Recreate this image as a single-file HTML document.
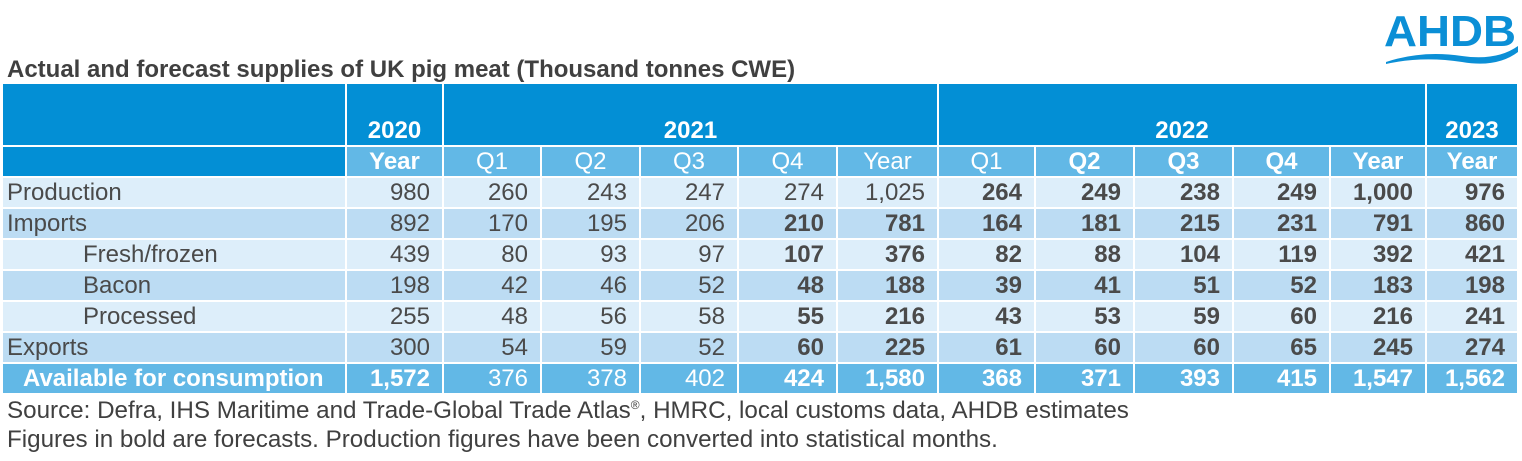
<!DOCTYPE html>
<html><head><meta charset="utf-8"><style>
body{margin:0;width:1522px;height:461px;background:#fff;font-family:"Liberation Sans",Arial,sans-serif;position:relative;overflow:hidden}
.t{position:absolute;left:7px;top:56px;font-size:24px;font-weight:bold;color:#404040}
.f{position:absolute;left:7px;font-size:24.2px;color:#404040}
table{position:absolute;left:3px;top:84px;border-collapse:collapse;table-layout:fixed;font-size:24px;color:#4a4a4a}
td{padding:0 12px 0 0;text-align:right;height:29px;border:2px solid #fff;white-space:nowrap;overflow:hidden;line-height:29px}
td:first-child{text-align:left;padding-left:4px;border-left:0}
tr.h1 td{background:#038fd5;color:#fff;font-weight:bold;text-align:center;padding:0;vertical-align:bottom;height:61px;border-top:0}
tr.h2 td{background:#62b8e6;color:#fff;text-align:center;padding:0}
tr.ra td{background:#ddeefa}
tr.rb td{background:#bcdcf3}
tr.rc td{background:#62b8e6;color:#fff;font-weight:bold}
tr.rc td.n{font-weight:normal}
.b{font-weight:bold}
.i{padding-left:80px!important}
</style></head><body>
<svg style="position:absolute;left:1382px;top:8px" width="138" height="56" viewBox="0 0 138 56">
<text x="2" y="38" font-family="Liberation Sans" font-weight="bold" font-size="44" fill="#0b8fd6" textLength="132" lengthAdjust="spacingAndGlyphs">AHDB</text>
<path d="M4 54 Q40 42 80 48 Q115 53 136 38 L136 44 Q115 60 80 54 Q40 48 4 56Z" fill="#0b8fd6"/>
</svg>
<div class="t">Actual and forecast supplies of UK pig meat (Thousand tonnes CWE)</div>
<table>
<colgroup><col style="width:343px"><col style="width:97px"><col style="width:98px"><col style="width:99px"><col style="width:98px"><col style="width:99px"><col style="width:101px"><col style="width:97px"><col style="width:99px"><col style="width:99px"><col style="width:97px"><col style="width:96px"><col style="width:92px"></colgroup>
<tr class="h1"><td style="border-bottom:0"></td><td>2020</td><td colspan="5">2021</td><td colspan="5">2022</td><td>2023</td></tr>
<tr class="h2"><td style="background:#038fd5"></td><td class="b">Year</td><td>Q1</td><td>Q2</td><td>Q3</td><td>Q4</td><td>Year</td><td>Q1</td><td class="b">Q2</td><td class="b">Q3</td><td class="b">Q4</td><td class="b">Year</td><td class="b">Year</td></tr>
<tr class="ra"><td>Production</td><td>980</td><td>260</td><td>243</td><td>247</td><td>274</td><td>1,025</td><td class="b">264</td><td class="b">249</td><td class="b">238</td><td class="b">249</td><td class="b">1,000</td><td class="b">976</td></tr>
<tr class="rb"><td>Imports</td><td>892</td><td>170</td><td>195</td><td>206</td><td class="b">210</td><td class="b">781</td><td class="b">164</td><td class="b">181</td><td class="b">215</td><td class="b">231</td><td class="b">791</td><td class="b">860</td></tr>
<tr class="ra"><td class="i">Fresh/frozen</td><td>439</td><td>80</td><td>93</td><td>97</td><td class="b">107</td><td class="b">376</td><td class="b">82</td><td class="b">88</td><td class="b">104</td><td class="b">119</td><td class="b">392</td><td class="b">421</td></tr>
<tr class="rb"><td class="i">Bacon</td><td>198</td><td>42</td><td>46</td><td>52</td><td class="b">48</td><td class="b">188</td><td class="b">39</td><td class="b">41</td><td class="b">51</td><td class="b">52</td><td class="b">183</td><td class="b">198</td></tr>
<tr class="ra"><td class="i">Processed</td><td>255</td><td>48</td><td>56</td><td>58</td><td class="b">55</td><td class="b">216</td><td class="b">43</td><td class="b">53</td><td class="b">59</td><td class="b">60</td><td class="b">216</td><td class="b">241</td></tr>
<tr class="rb"><td>Exports</td><td>300</td><td>54</td><td>59</td><td>52</td><td class="b">60</td><td class="b">225</td><td class="b">61</td><td class="b">60</td><td class="b">60</td><td class="b">65</td><td class="b">245</td><td class="b">274</td></tr>
<tr class="rc"><td style="padding-left:20px">Available for consumption</td><td>1,572</td><td class="n">376</td><td class="n">378</td><td class="n">402</td><td>424</td><td>1,580</td><td>368</td><td>371</td><td>393</td><td>415</td><td>1,547</td><td>1,562</td></tr>
</table>
<div class="f" style="top:397px">Source: Defra, IHS Maritime and Trade-Global Trade Atlas<sup style="font-size:12px">®</sup>, HMRC, local customs data, AHDB estimates</div>
<div class="f" style="top:426px">Figures in bold are forecasts. Production figures have been converted into statistical months.</div>
</body></html>
